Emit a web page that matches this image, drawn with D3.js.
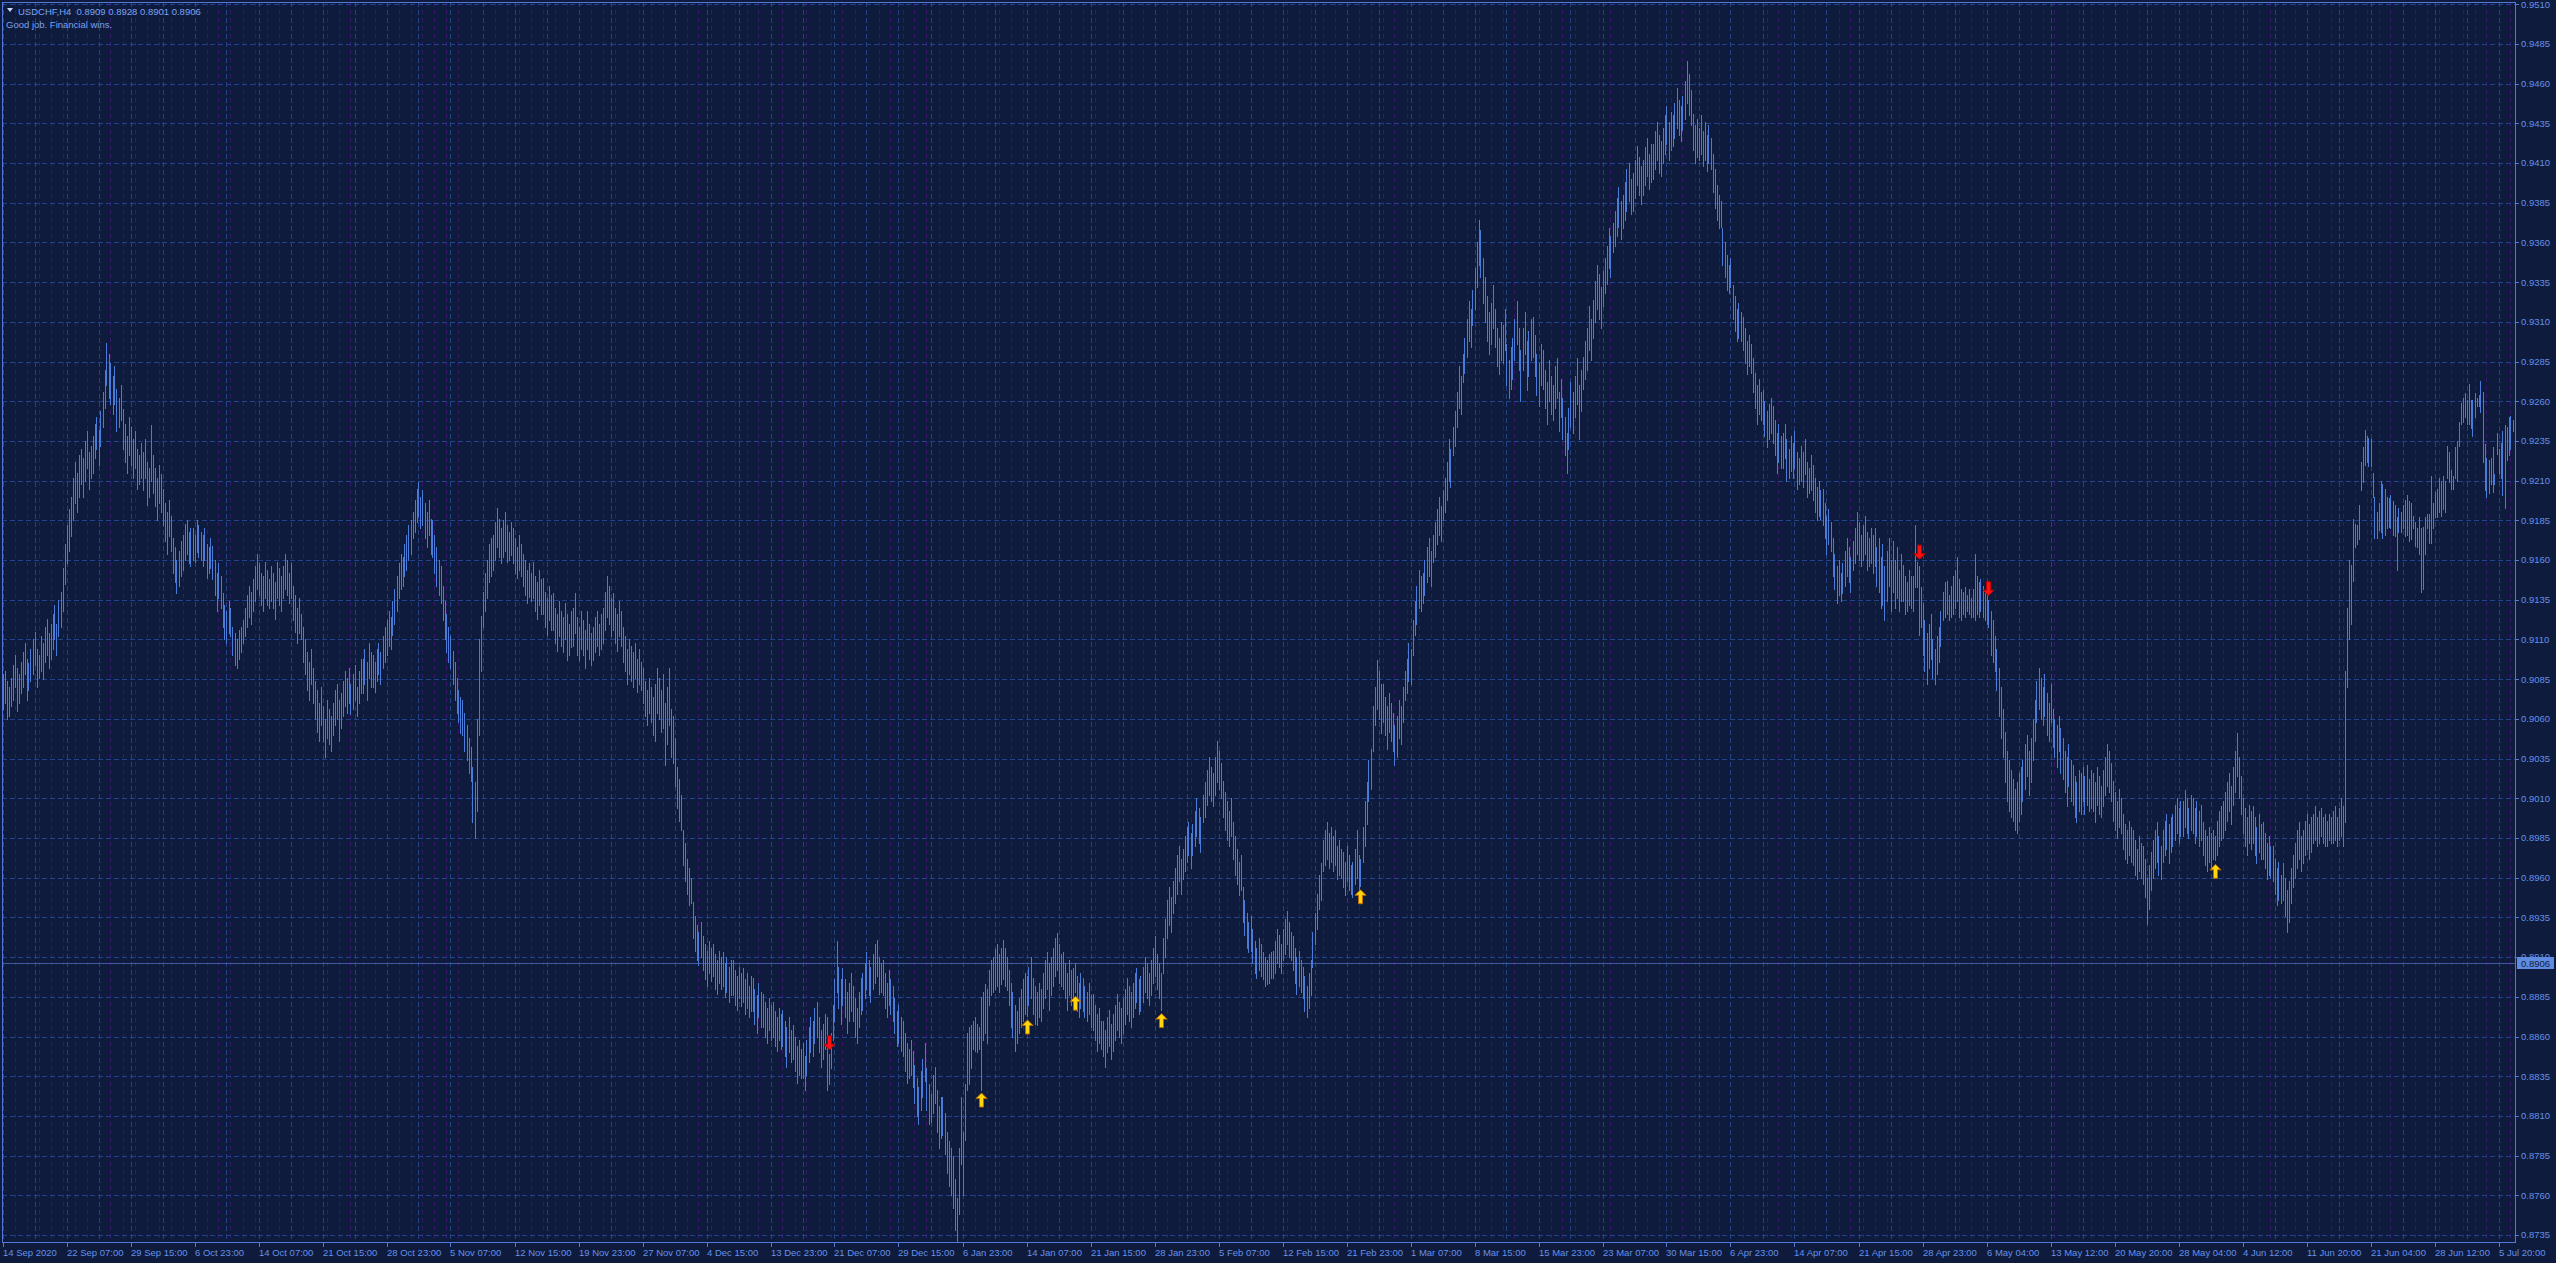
<!DOCTYPE html>
<html><head><meta charset="utf-8">
<script src="https://cdn.jsdelivr.net/npm/d3@7"></script>
<style>html,body{margin:0;padding:0;background:#0f1b3c;overflow:hidden}</style>
</head><body><svg id="c" width="2556" height="1263"></svg>
<script>
// ---------- DATA ----------
const symbolTitle = "USDCHF,H4  0.8909 0.8928 0.8901 0.8906";
const subtitle = "Good job. Financial wins.";
const currentPrice = 0.8906;

const priceTicks = [0.8735,0.8760,0.8785,0.8810,0.8835,0.8860,0.8885,0.8910,0.8935,0.8960,0.8985,0.9010,0.9035,0.9060,0.9085,0.9110,0.9135,0.9160,0.9185,0.9210,0.9235,0.9260,0.9285,0.9310,0.9335,0.9360,0.9385,0.9410,0.9435,0.9460,0.9485,0.9510];

const dateLabels = ["14 Sep 2020","22 Sep 07:00","29 Sep 15:00","6 Oct 23:00","14 Oct 07:00","21 Oct 15:00","28 Oct 23:00","5 Nov 07:00","12 Nov 15:00","19 Nov 23:00","27 Nov 07:00","4 Dec 15:00","13 Dec 23:00","21 Dec 07:00","29 Dec 15:00","6 Jan 23:00","14 Jan 07:00","21 Jan 15:00","28 Jan 23:00","5 Feb 07:00","12 Feb 15:00","21 Feb 23:00","1 Mar 07:00","8 Mar 15:00","15 Mar 23:00","23 Mar 07:00","30 Mar 15:00","6 Apr 23:00","14 Apr 07:00","21 Apr 15:00","28 Apr 23:00","6 May 04:00","13 May 12:00","20 May 20:00","28 May 04:00","4 Jun 12:00","11 Jun 20:00","21 Jun 04:00","28 Jun 12:00","5 Jul 20:00"];
const barsPerLabel = 32;

// H4 bars: [high, low] in pips (price * 10000)
const barHighLow = [
[9088,9066],[9090,9070],[9084,9060],[9080,9062],[9086,9068],
[9094,9072],[9100,9080],[9092,9065],[9088,9070],[9096,9076],
[9102,9080],[9108,9088],[9098,9072],[9095,9078],[9104,9084],
[9110,9088],[9115,9094],[9104,9080],[9100,9086],[9112,9090],
[9108,9085],[9118,9096],[9123,9100],[9114,9092],[9120,9098],
[9126,9104],[9132,9110],[9120,9100],[9135,9112],[9140,9118],
[9155,9128],[9170,9145],[9182,9158],[9192,9166],[9200,9175],
[9212,9185],[9222,9196],[9215,9190],[9226,9200],[9230,9208],
[9224,9200],[9235,9210],[9241,9218],[9228,9205],[9232,9212],
[9238,9215],[9246,9224],[9250,9230],[9242,9220],[9254,9232],
// j=10
[9266,9244],[9280,9256],[9297,9270],[9290,9262],[9284,9258],
[9276,9252],[9282,9258],[9268,9241],[9262,9244],[9270,9248],
[9255,9230],[9246,9222],[9238,9215],[9250,9226],[9244,9220],
[9236,9212],[9241,9218],[9230,9205],[9226,9208],[9234,9212],
[9228,9204],[9236,9212],[9222,9195],[9218,9200],[9245,9210],
[9226,9202],[9218,9194],[9212,9185],[9220,9196],[9214,9190],
[9205,9182],[9196,9172],[9190,9164],[9198,9175],[9188,9166],
[9174,9152],[9168,9146],[9160,9139],[9166,9144],[9172,9150],
[9176,9154],[9183,9160],[9185,9164],[9178,9158],[9180,9156],
[9180,9160],[9176,9159],[9185,9165],[9182,9162],[9178,9160],
// j=20
[9176,9156],[9180,9160],[9170,9149],[9168,9152],[9174,9155],
[9169,9148],[9160,9138],[9152,9128],[9158,9136],[9150,9130],
[9139,9118],[9132,9110],[9128,9108],[9134,9114],[9130,9112],
[9118,9100],[9114,9094],[9110,9092],[9116,9098],[9118,9102],
[9122,9108],[9130,9112],[9138,9118],[9144,9124],[9140,9120],
[9148,9128],[9156,9134],[9164,9142],[9158,9138],[9152,9132],
[9150,9128],[9159,9136],[9154,9132],[9148,9130],[9156,9134],
[9152,9130],[9146,9123],[9159,9136],[9155,9132],[9150,9128],
[9156,9136],[9164,9142],[9160,9138],[9152,9133],[9158,9136],
[9144,9122],[9138,9115],[9130,9108],[9136,9114],[9126,9110],
// j=30
[9118,9096],[9110,9088],[9102,9078],[9096,9072],[9104,9082],
[9092,9070],[9084,9060],[9078,9052],[9070,9046],[9080,9056],
[9068,9046],[9060,9036],[9072,9048],[9066,9044],[9062,9040],
[9070,9050],[9078,9056],[9082,9060],[9072,9046],[9076,9054],
[9084,9062],[9090,9068],[9086,9064],[9092,9070],[9082,9063],
[9088,9066],[9094,9072],[9080,9062],[9090,9070],[9098,9076],
[9098,9076],[9104,9082],[9096,9072],[9108,9086],[9102,9080],
[9100,9080],[9096,9077],[9104,9084],[9108,9088],[9102,9082],
[9112,9092],[9118,9096],[9122,9100],[9128,9106],[9124,9104],
[9134,9113],[9142,9120],[9150,9128],[9158,9136],[9164,9142],
// j=40
[9162,9144],[9170,9150],[9176,9154],[9182,9160],[9185,9164],
[9190,9174],[9198,9178],[9205,9184],[9209,9188],[9200,9180],
[9204,9182],[9196,9174],[9190,9168],[9198,9176],[9186,9164],
[9185,9162],[9176,9152],[9168,9144],[9160,9138],[9156,9133],
[9144,9122],[9134,9110],[9126,9102],[9118,9096],[9112,9092],
[9103,9082],[9096,9072],[9086,9064],[9078,9058],[9074,9051],
[9072,9050],[9064,9040],[9056,9034],[9048,9026],[9042,9021],
[9030,8995],[9020,8985],[9060,9002],[9110,9050],[9125,9090],
[9140,9118],[9152,9128],[9160,9136],[9170,9146],[9174,9150],
[9176,9154],[9184,9160],[9193,9168],[9186,9162],[9180,9158],
// j=50
[9185,9162],[9190,9166],[9182,9159],[9178,9160],[9184,9163],
[9180,9158],[9174,9152],[9168,9149],[9176,9154],[9170,9150],
[9164,9144],[9160,9138],[9154,9133],[9158,9137],[9152,9134],
[9159,9136],[9150,9128],[9146,9123],[9154,9132],[9148,9126],
[9149,9126],[9140,9118],[9136,9113],[9144,9122],[9138,9116],
[9139,9116],[9130,9108],[9126,9103],[9134,9112],[9128,9106],
[9124,9102],[9133,9110],[9126,9097],[9120,9100],[9128,9105],
[9130,9106],[9139,9114],[9124,9100],[9118,9097],[9128,9104],
[9122,9100],[9116,9092],[9128,9104],[9120,9098],[9114,9094],
[9118,9097],[9124,9102],[9128,9106],[9120,9100],[9126,9104],
// j=60
[9130,9108],[9140,9116],[9150,9124],[9144,9120],[9136,9112],
[9139,9116],[9130,9108],[9126,9103],[9134,9112],[9128,9106],
[9118,9096],[9112,9090],[9104,9082],[9110,9088],[9106,9084],
[9102,9080],[9108,9086],[9098,9077],[9104,9082],[9096,9078],
[9092,9070],[9084,9062],[9078,9056],[9086,9064],[9080,9058],
[9074,9050],[9082,9046],[9092,9064],[9086,9060],[9078,9052],
[9088,9054],[9070,9031],[9080,9044],[9092,9056],[9066,9036],
[9062,9032],[9048,9018],[9030,9004],[9022,8996],[9012,8990],
[8990,8968],[8982,8958],[8972,8950],[8966,8943],[8960,8944],
[8945,8922],[8936,8914],[8930,8908],[8926,8905],[8932,8910],
// j=70
[8923,8902],[8918,8896],[8914,8892],[8920,8900],[8916,8895],
[8918,8898],[8912,8890],[8908,8887],[8914,8894],[8910,8890],
[8913,8892],[8906,8885],[8910,8888],[8904,8882],[8908,8886],
[8908,8886],[8902,8880],[8898,8877],[8904,8884],[8900,8879],
[8903,8882],[8896,8874],[8900,8878],[8892,8872],[8898,8876],
[8897,8876],[8890,8868],[8886,8862],[8894,8872],[8888,8866],
[8887,8866],[8882,8860],[8878,8856],[8884,8864],[8880,8858],
[8882,8860],[8876,8854],[8872,8851],[8878,8858],[8874,8852],
[8877,8854],[8870,8848],[8866,8841],[8872,8850],[8864,8844],
[8867,8846],[8860,8838],[8854,8831],[8858,8836],[8852,8834],
// j=80
[8856,8834],[8848,8826],[8858,8836],[8866,8844],[8872,8850],
[8870,8848],[8878,8856],[8882,8860],[8872,8850],[8864,8841],
[8868,8846],[8874,8852],[8872,8826],[8849,8830],[8862,8840],
[8880,8858],[8896,8870],[8920,8888],[8904,8878],[8896,8868],
[8903,8880],[8896,8872],[8888,8862],[8894,8870],[8900,8876],
[8892,8870],[8884,8860],[8878,8856],[8888,8866],[8897,8874],
[8900,8877],[8906,8884],[8913,8890],[8908,8886],[8904,8882],
[8912,8890],[8918,8894],[8921,8898],[8910,8887],[8906,8888],
[8908,8886],[8900,8878],[8894,8872],[8902,8880],[8896,8874],
[8892,8870],[8884,8862],[8876,8854],[8880,8856],[8872,8851],
// j=90
[8870,8848],[8862,8838],[8856,8831],[8852,8834],[8858,8836],
[8851,8828],[8842,8818],[8834,8810],[8828,8805],[8838,8814],
[8846,8822],[8856,8832],[8840,8814],[8830,8805],[8824,8806],
[8836,8812],[8841,8818],[8826,8800],[8816,8790],[8822,8796],
[8822,8798],[8812,8786],[8800,8774],[8794,8766],[8790,8760],
[8785,8752],[8770,8738],[8758,8731],[8790,8748],[8822,8780],
[8800,8760],[8830,8795],[8862,8826],[8866,8830],[8867,8840],
[8870,8852],[8872,8851],[8868,8850],[8866,8852],[8885,8826],
[8888,8858],[8893,8862],[8890,8856],[8902,8880],[8908,8886],
[8910,8888],[8915,8890],[8918,8892],[8912,8888],[8916,8893],
// j=100
[8921,8896],[8916,8892],[8910,8889],[8902,8880],[8894,8866],
[8888,8860],[8880,8851],[8876,8856],[8884,8862],[8890,8866],
[8896,8870],[8900,8874],[8898,8873],[8904,8880],[8910,8884],
[8897,8874],[8892,8868],[8888,8867],[8894,8872],[8890,8870],
[8900,8878],[8908,8884],[8913,8890],[8906,8877],[8910,8886],
[8916,8892],[8922,8898],[8925,8902],[8918,8894],[8912,8892],
[8913,8890],[8906,8884],[8900,8877],[8908,8886],[8902,8880],
[8903,8884],[8906,8888],[8898,8876],[8894,8872],[8900,8878],
[8897,8876],[8892,8872],[8888,8870],[8894,8874],[8886,8866],
[8887,8864],[8880,8858],[8874,8851],[8878,8856],[8870,8852],
// j=110
[8870,8848],[8864,8841],[8872,8850],[8877,8854],[8868,8846],
[8874,8851],[8880,8858],[8887,8864],[8882,8860],[8878,8856],
[8884,8862],[8890,8868],[8897,8874],[8892,8870],[8888,8866],
[8894,8872],[8900,8878],[8903,8882],[8896,8874],[8898,8876],
[8904,8882],[8910,8888],[8906,8884],[8900,8880],[8908,8886],
[8916,8894],[8923,8898],[8912,8890],[8906,8884],[8900,8877],
[8922,8900],[8934,8910],[8946,8922],[8954,8930],[8948,8926],
[8958,8938],[8966,8944],[8974,8950],[8980,8958],[8972,8950],
[8978,8959],[8986,8964],[8992,8970],[8995,8974],[8988,8966],
[8994,8974],[9002,8980],[9010,8986],[9004,8982],[8998,8976],
// j=120
[9012,8995],[9020,8998],[9028,9006],[9036,9012],[9030,9008],
[9026,9005],[9036,9012],[9046,9020],[9040,9016],[9032,9010],
[9021,8998],[9014,8990],[9008,8984],[9002,8980],[9010,8986],
[8995,8972],[8986,8962],[8978,8956],[8970,8949],[8974,8952],
[8954,8932],[8946,8924],[8938,8916],[8932,8913],[8936,8914],
[8928,8906],[8920,8900],[8916,8897],[8922,8902],[8918,8898],
[8913,8896],[8910,8892],[8908,8893],[8912,8894],[8913,8897],
[8914,8897],[8920,8900],[8928,8906],[8924,8904],[8918,8900],
[8928,8908],[8934,8912],[8939,8918],[8932,8910],[8926,8908],
[8923,8902],[8916,8894],[8910,8887],[8914,8892],[8908,8888],
// j=130
[8904,8884],[8898,8876],[8892,8872],[8900,8878],[8908,8886],
[8926,8904],[8938,8918],[8950,8928],[8962,8940],[8969,8946],
[8984,8964],[8990,8968],[8995,8972],[8988,8966],[8992,8970],
[8986,8964],[8990,8968],[8980,8959],[8984,8962],[8978,8960],
[8976,8954],[8970,8949],[8980,8958],[8974,8952],[8968,8950],
[8970,8948],[8978,8956],[8990,8960],[8974,8952],[8972,8955],
[8992,8970],[9008,8980],[9020,8994],[9034,9008],[9041,9016],
[9068,9040],[9080,9056],[9097,9066],[9090,9060],[9082,9051],
[9082,9058],[9074,9050],[9068,9041],[9076,9052],[9070,9046],
[9064,9040],[9056,9031],[9062,9036],[9072,9048],[9068,9044],
// j=140
[9080,9058],[9090,9072],[9098,9076],[9108,9084],[9104,9082],
[9122,9100],[9134,9113],[9144,9120],[9154,9130],[9150,9128],
[9152,9133],[9160,9138],[9168,9146],[9174,9150],[9166,9144],
[9176,9159],[9184,9162],[9192,9170],[9200,9176],[9194,9172],
[9204,9185],[9212,9190],[9222,9198],[9236,9210],[9230,9206],
[9244,9226],[9254,9232],[9266,9244],[9282,9256],[9276,9252],
[9290,9272],[9300,9278],[9312,9288],[9323,9298],[9318,9294],
[9330,9308],[9344,9318],[9360,9332],[9374,9346],[9368,9338],
[9350,9322],[9338,9310],[9326,9298],[9316,9290],[9322,9296],
[9333,9306],[9318,9294],[9306,9282],[9300,9277],[9310,9286],
// j=150
[9308,9284],[9318,9292],[9296,9270],[9286,9262],[9294,9268],
[9300,9274],[9312,9286],[9323,9296],[9306,9280],[9292,9260],
[9306,9280],[9316,9290],[9298,9267],[9304,9276],[9312,9286],
[9313,9288],[9302,9276],[9290,9264],[9284,9257],[9296,9270],
[9292,9268],[9280,9256],[9272,9246],[9286,9260],[9276,9252],
[9270,9248],[9282,9256],[9287,9262],[9266,9241],[9274,9250],
[9262,9236],[9250,9226],[9240,9215],[9256,9230],[9272,9244],
[9266,9240],[9276,9250],[9287,9258],[9270,9236],[9280,9254],
[9288,9268],[9298,9274],[9306,9280],[9320,9292],[9312,9286],
[9324,9300],[9336,9310],[9346,9318],[9340,9312],[9332,9306],
// j=160
[9342,9320],[9350,9328],[9358,9334],[9369,9344],[9364,9338],
[9372,9354],[9380,9358],[9388,9364],[9395,9370],[9386,9362],
[9390,9369],[9398,9374],[9406,9380],[9410,9386],[9400,9378],
[9404,9380],[9412,9388],[9421,9396],[9414,9390],[9408,9384],
[9412,9390],[9420,9396],[9426,9402],[9416,9394],[9422,9398],
[9422,9400],[9430,9406],[9436,9412],[9428,9404],[9424,9402],
[9432,9410],[9440,9416],[9446,9422],[9436,9412],[9442,9418],
[9440,9421],[9448,9426],[9457,9432],[9450,9428],[9446,9424],
[9452,9431],[9462,9438],[9474,9448],[9466,9440],[9456,9434],
[9441,9418],[9434,9410],[9438,9414],[9432,9412],[9440,9416],
// j=170
[9430,9408],[9436,9412],[9428,9405],[9434,9410],[9426,9406],
[9416,9392],[9406,9382],[9396,9374],[9390,9369],[9386,9370],
[9369,9346],[9360,9338],[9352,9330],[9346,9328],[9350,9332],
[9333,9312],[9326,9304],[9318,9298],[9322,9300],[9316,9298],
[9313,9292],[9306,9284],[9298,9277],[9302,9282],[9296,9278],
[9287,9266],[9278,9256],[9270,9246],[9274,9252],[9266,9248],
[9267,9246],[9260,9238],[9254,9231],[9258,9236],[9262,9240],
[9257,9234],[9248,9226],[9240,9215],[9246,9222],[9238,9218],
[9240,9218],[9246,9224],[9236,9210],[9230,9212],[9238,9216],
[9234,9212],[9241,9218],[9228,9205],[9224,9208],[9232,9210],
// j=180
[9228,9206],[9236,9214],[9222,9200],[9218,9202],[9226,9204],
[9220,9198],[9212,9190],[9206,9185],[9210,9188],[9204,9186],
[9205,9182],[9196,9174],[9188,9164],[9192,9170],[9184,9166],
[9174,9150],[9164,9142],[9156,9133],[9160,9138],[9152,9134],
[9158,9139],[9166,9144],[9174,9150],[9168,9146],[9162,9140],
[9172,9154],[9180,9158],[9190,9164],[9184,9160],[9176,9156],
[9182,9160],[9188,9164],[9178,9154],[9174,9156],[9180,9158],
[9176,9152],[9180,9156],[9168,9144],[9174,9140],[9162,9130],
[9170,9132],[9156,9122],[9166,9134],[9174,9144],[9160,9128],
[9172,9140],[9160,9130],[9168,9136],[9154,9128],[9164,9134],
// j=190
[9157,9134],[9150,9126],[9146,9128],[9154,9132],[9150,9130],
[9150,9128],[9182,9143],[9159,9143],[9156,9113],[9143,9118],
[9133,9100],[9122,9090],[9114,9082],[9120,9092],[9126,9098],
[9110,9086],[9104,9082],[9112,9088],[9118,9096],[9128,9106],
[9140,9122],[9146,9124],[9147,9126],[9138,9122],[9144,9124],
[9150,9126],[9154,9130],[9162,9134],[9148,9124],[9142,9122],
[9140,9126],[9143,9124],[9138,9128],[9142,9126],[9136,9124],
[9142,9124],[9164,9122],[9150,9126],[9146,9124],[9148,9128],
[9144,9124],[9140,9122],[9138,9120],[9135,9118],[9128,9100],
[9122,9096],[9112,9090],[9104,9078],[9092,9062],[9080,9048],
// j=200
[9066,9036],[9052,9020],[9040,9008],[9034,9002],[9028,8998],
[9022,8996],[9016,8990],[9020,8988],[9026,8996],[9030,9000],
[9034,9008],[9044,9016],[9050,9024],[9040,9012],[9048,9020],
[9060,9034],[9072,9046],[9084,9058],[9092,9066],[9086,9060],
[9080,9056],[9088,9062],[9076,9050],[9070,9046],[9082,9058],
[9066,9042],[9060,9036],[9056,9030],[9062,9040],[9054,9026],
[9048,9022],[9040,9014],[9036,9005],[9044,9018],[9034,9008],
[9031,9006],[9024,8998],[9020,8995],[9028,9002],[9026,9000],
[9030,9008],[9024,9000],[9031,9006],[9022,9002],[9028,9004],
[9026,9002],[9020,8995],[9030,9006],[9024,9000],[9018,8998],
// j=210
[9028,9005],[9036,9012],[9044,9018],[9040,9014],[9032,9008],
[9021,8996],[9014,8990],[9008,8985],[9016,8992],[9010,8988],
[9000,8978],[8994,8972],[8990,8969],[8996,8974],[8992,8970],
[8990,8968],[8984,8962],[8978,8959],[8986,8964],[8982,8960],
[8980,8956],[8972,8948],[8960,8931],[8968,8940],[8976,8952],
[8984,8960],[8990,8966],[8995,8970],[8986,8962],[8980,8959],
[8990,8970],[8996,8974],[9000,8978],[8994,8969],[8998,8976],
[9000,8980],[9006,8984],[9010,8988],[9004,8982],[9008,8986],
[9008,8986],[9015,8992],[9010,8988],[9004,8985],[9012,8990],
[9010,8988],[9004,8982],[9008,8986],[9002,8980],[9006,8984],
// j=220
[8995,8974],[8990,8968],[8986,8964],[8992,8970],[8988,8966],
[8990,8972],[8986,8971],[8996,8974],[9002,8980],[9005,8984],
[9008,8985],[9014,8990],[9020,8996],[9026,9002],[9018,8994],
[9030,9006],[9040,9014],[9051,9024],[9036,9010],[9024,9000],
[9010,8988],[9004,8980],[8998,8974],[9006,8982],[9002,8978],
[9005,8982],[8998,8974],[8992,8969],[9000,8976],[8994,8972],
[8995,8972],[8988,8966],[8982,8959],[8986,8962],[8980,8960],
[8980,8958],[8972,8950],[8966,8943],[8970,8946],[8962,8944],
[8969,8946],[8960,8936],[8952,8926],[8958,8932],[8966,8944],
[8974,8954],[8982,8960],[8990,8966],[8995,8972],[8986,8964],
// j=230
[8990,8969],[8996,8974],[9000,8978],[8994,8972],[8998,8976],
[9000,8982],[9005,8984],[8998,8980],[9002,8982],[9004,8986],
[8998,8982],[9000,8980],[8996,8980],[9000,8984],[8998,8982],
[9002,8982],[9005,8984],[8998,8980],[9004,8984],[9010,8986],
[9005,8980],[9090,8995],[9130,9080],[9160,9110],[9157,9120],
[9186,9147],[9183,9168],[9182,9170],[9195,9173],[9222,9204],
[9231,9209],[9242,9220],[9238,9222],[9237,9219],[9236,9219],
[9215,9200],[9200,9174],[9190,9174],[9196,9179],[9210,9178],
[9208,9174],[9205,9176],[9200,9180],[9199,9181],[9201,9180],
[9197,9176],[9195,9175],[9187,9154],[9193,9178],[9190,9178],
// j=240
[9195,9180],[9198,9175],[9201,9176],[9197,9172],[9196,9173],
[9188,9180],[9184,9169],[9180,9168],[9187,9164],[9180,9140],
[9181,9142],[9187,9164],[9189,9180],[9189,9171],[9213,9171],
[9196,9180],[9203,9187],[9205,9187],[9212,9190],[9210,9188],
[9213,9192],[9210,9190],[9232,9212],[9228,9209],[9217,9205],
[9213,9205],[9231,9212],[9235,9210],[9247,9232],[9259,9246],
[9262,9247],[9265,9250],[9261,9246],[9271,9246],[9261,9243],
[9261,9238],[9265,9250],[9262,9257],[9264,9257],[9273,9253],
[9266,9222],[9233,9204],[9224,9200],[9223,9202],[9224,9208],
[9231,9203],[9214,9208],[9240,9227],[9230,9215],[9234,9212],
// j=250
[9241,9201],[9245,9193],[9244,9223],[9250,9226],[9251,9230],
[9248,9241]
];

// signal arrows: bar index, price (pips), type
const arrowBar   = [413, 489, 512, 536, 579, 679, 958, 993, 1106];
const arrowPrice = [8856, 8820, 8866, 8881, 8870, 8948, 9165, 9142, 8964];
const arrowType  = ["sell","buy","buy","buy","buy","buy","sell","sell","buy"];

// ---------- DRAW ----------
const svg = d3.select("#c");
const BG = "#0f1b3c", FRAME = "#5379d6", TXT = "#6391ea";
const GRID_BLUE = "#22438a", GRID_PURPLE = "#3a166f", BAR = "#4b7bd9";
const N = barHighLow.length;
const plotL = 2, plotT = 2, plotR = 2515, plotB = 1242;

const x = d3.scaleLinear().domain([0, N]).range([3, 3 + 2 * N]);
const y = d3.scaleLinear().domain([0.8735, 0.9510]).range([1235, 4.3]);
const px = i => Math.floor(x(i)) + 0.5;
const py = v => Math.round(y(v)) + 0.5;

svg.append("rect").attr("width", 2556).attr("height", 1263).attr("fill", BG);

const grid = svg.append("g").attr("shape-rendering", "crispEdges");
// day separators (every 6 H4 bars)
const dayIdx = d3.range(0, N, 6).filter(i => i % 48 !== 0);
grid.selectAll("line.day").data(dayIdx).join("line").attr("class", "day")
  .attr("x1", px).attr("x2", px).attr("y1", plotT).attr("y2", plotB)
  .attr("stroke", GRID_PURPLE).attr("stroke-dasharray", "4,4");
// vertical grid every 16 bars
const vIdx = d3.range(0, N, 16);
grid.selectAll("line.v").data(vIdx).join("line").attr("class", "v")
  .attr("x1", px).attr("x2", px).attr("y1", plotT).attr("y2", plotB)
  .attr("stroke", GRID_BLUE).attr("stroke-dasharray", "5,3");
// horizontal grid
grid.selectAll("line.h").data(priceTicks).join("line").attr("class", "h")
  .attr("x1", plotL).attr("x2", plotR).attr("y1", py).attr("y2", py)
  .attr("stroke", GRID_BLUE).attr("stroke-dasharray", "5,3");

// current price line
svg.append("line").attr("x1", plotL).attr("x2", plotR)
  .attr("y1", py(currentPrice)).attr("y2", py(currentPrice))
  .attr("stroke", "#3d5b9c").attr("shape-rendering", "crispEdges");

// bars
svg.append("g").attr("shape-rendering", "crispEdges")
  .selectAll("line").data(barHighLow).join("line")
  .attr("x1", (d, i) => px(i)).attr("x2", (d, i) => px(i))
  .attr("y1", d => Math.round(y(d[0] / 1e4)))
  .attr("y2", d => Math.round(y(d[1] / 1e4)) + 1)
  .attr("stroke", BAR).attr("stroke-width", 1);

// arrows
const upPath = "M0,-7 L5.5,-1.5 L2,-1.5 L2,7 L-2,7 L-2,-1.5 L-5.5,-1.5 Z";
const downPath = "M0,7 L5.5,1.5 L2,1.5 L2,-7 L-2,-7 L-2,1.5 L-5.5,1.5 Z";
svg.append("g").selectAll("path").data(arrowBar).join("path")
  .attr("transform", (b, k) => `translate(${px(b)},${y(arrowPrice[k] / 1e4)})`)
  .attr("d", (b, k) => arrowType[k] === "buy" ? upPath : downPath)
  .attr("fill", (b, k) => arrowType[k] === "buy" ? "#ffd60a" : "#ff1010")
  .attr("stroke", (b, k) => arrowType[k] === "buy" ? "#b86a00" : "#c00000")
  .attr("stroke-width", 1);

// frame
svg.append("rect").attr("x", plotL + 0.5).attr("y", plotT + 0.5)
  .attr("width", plotR - plotL).attr("height", plotB - plotT)
  .attr("fill", "none").attr("stroke", FRAME).attr("shape-rendering", "crispEdges");

const font = "'Liberation Sans', Arial, sans-serif";
// right axis
const ra = svg.append("g").attr("font-family", font).attr("font-size", "9.5px").attr("fill", TXT);
ra.selectAll("line").data(priceTicks).join("line")
  .attr("x1", plotR).attr("x2", plotR + 4).attr("y1", py).attr("y2", py)
  .attr("stroke", FRAME).attr("shape-rendering", "crispEdges");
ra.selectAll("text").data(priceTicks).join("text")
  .attr("x", plotR + 6).attr("y", d => y(d)).attr("dy", "0.35em")
  .text(d => d.toFixed(4));

// current price label
const cpY = y(currentPrice);
svg.append("rect").attr("x", plotR + 2).attr("y", Math.round(cpY) - 6)
  .attr("width", 37).attr("height", 12).attr("fill", "#5f8ce0");
svg.append("text").attr("x", plotR + 6).attr("y", cpY).attr("dy", "0.35em")
  .attr("font-family", font).attr("font-size", "9.5px").attr("fill", BG)
  .text(currentPrice.toFixed(4));

// bottom axis
const tickIdx = dateLabels.map((d, k) => k * barsPerLabel);
const ba = svg.append("g").attr("font-family", font).attr("font-size", "9.5px").attr("fill", TXT);
ba.selectAll("line").data(tickIdx).join("line")
  .attr("x1", px).attr("x2", px).attr("y1", plotB).attr("y2", plotB + 5)
  .attr("stroke", FRAME).attr("shape-rendering", "crispEdges");
ba.selectAll("text").data(dateLabels).join("text")
  .attr("x", (d, k) => px(tickIdx[k]) - 0.5).attr("y", 1256)
  .text(d => d);

// header
svg.append("path").attr("d", "M7,8 L13,8 L10,12 Z").attr("fill", "#c9d6f5");
svg.append("text").attr("x", 18).attr("y", 14.5).attr("font-family", font)
  .attr("font-size", "9.5px").attr("fill", "#7aa2f2").attr("xml:space", "preserve")
  .style("white-space", "pre").text(symbolTitle);
svg.append("text").attr("x", 6).attr("y", 27.5).attr("font-family", font)
  .attr("font-size", "9.5px").attr("fill", "#7aa2f2").text(subtitle);
</script>
</body></html>
